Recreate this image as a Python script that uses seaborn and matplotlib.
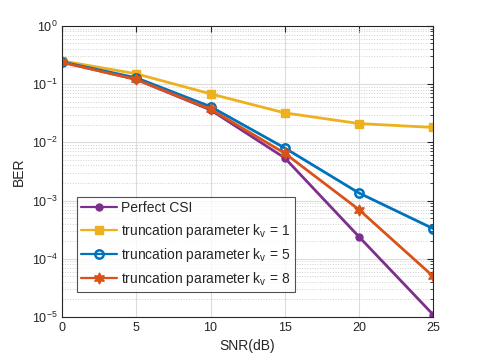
import matplotlib.pyplot as plt
import seaborn as sns
import numpy as np
import pandas as pd

plt.switch_backend('Agg')

# Data
snr = [0, 5, 10, 15, 20, 25]
ber_perfect = [0.24, 0.12, 0.036, 0.0054, 2.4e-4, 1.1e-5]
ber_k1 = [0.25, 0.15, 0.068, 0.032, 0.021, 0.018]
ber_k5 = [0.24, 0.128, 0.041, 0.008, 1.35e-3, 3.3e-4]
ber_k8 = [0.235, 0.12, 0.037, 0.0065, 7.0e-4, 5.0e-5]
labels = ['Perfect CSI',
          'truncation parameter k$_\\mathregular{v}$ = 1',
          'truncation parameter k$_\\mathregular{v}$ = 5',
          'truncation parameter k$_\\mathregular{v}$ = 8']

sns.set_style('white')
plt.rcParams['font.family'] = ['Liberation Sans', 'DejaVu Sans']
plt.rcParams['mathtext.fontset'] = 'custom'
plt.rcParams['mathtext.rm'] = 'Liberation Sans'

fig = plt.figure(figsize=(4.78, 3.59), dpi=100)
ax = fig.add_axes([0.13, 0.117, 0.776, 0.811])

styles = [
    dict(color='#7E2F8E', marker='o', mfc='#7E2F8E', ms=5),
    dict(color='#EDB120', marker='s', mfc='#EDB120', ms=6),
    dict(color='#0072BD', marker='o', mfc='none', ms=6, mew=1.8),
    dict(color='#D95319', marker=(6, 1, 0), mfc='#D95319', ms=8),
]
series = [ber_perfect, ber_k1, ber_k5, ber_k8]
for y, lab, st in zip(series, labels, styles):
    df = pd.DataFrame({'SNR': snr, 'BER': y})
    sns.lineplot(data=df, x='SNR', y='BER', ax=ax, label=lab, lw=2,
                 color=st['color'], marker=st['marker'], markersize=st['ms'],
                 markerfacecolor=st['mfc'], markeredgecolor=st['color'],
                 markeredgewidth=st.get('mew', 1))

ax.set_yscale('log')
ax.set_xlim(0, 25)
ax.set_ylim(1e-5, 1)
ax.set_xticks(np.arange(0, 26, 5))
ax.set_yticks([1e-5, 1e-4, 1e-3, 1e-2, 1e-1, 1])
ax.grid(True, which='major', color='#dcdcdc', lw=0.8)
ax.grid(True, which='minor', axis='y', color='#d0d0d0', ls=':', lw=0.7)
ax.tick_params(which='both', direction='in', top=True, right=True,
               labelsize=9, colors='#262626')
ax.tick_params(which='major', length=4)
ax.tick_params(which='minor', length=2)
for s in ax.spines.values():
    s.set_color('#262626')
    s.set_linewidth(0.8)
ax.set_xlabel('SNR(dB)', fontsize=10, color='#262626')
ax.set_ylabel('BER', fontsize=10, color='#262626')

leg = ax.legend(loc='lower left', bbox_to_anchor=(0.04, 0.085), fontsize=10,
                frameon=True, fancybox=False, edgecolor='#262626',
                handlelength=2.6, handletextpad=0.3, labelspacing=0.45,
                borderpad=0.3, borderaxespad=0)
leg.get_frame().set_linewidth(0.8)
for line in leg.get_lines():
    line.set_linewidth(1.6)

fig.savefig('out.png', dpi=100)
